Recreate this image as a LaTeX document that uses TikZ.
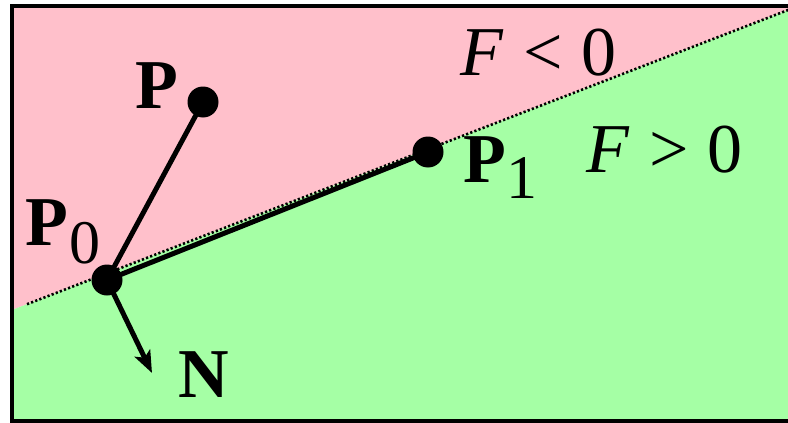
\documentclass[tikz,border=0pt]{standalone}
\usepackage{fontspec}
\setmainfont{Liberation Serif}
\usetikzlibrary{arrows.meta}
\definecolor{pinkfill}{RGB}{255,192,203}
\definecolor{greenfill}{RGB}{165,255,165}
\begin{document}
\begin{tikzpicture}[x=1pt,y=-1pt,
  dot/.style={circle,fill=black,inner sep=0pt,minimum size=31pt},
  lbl/.style={inner sep=0pt,anchor=base west,font=\fontsize{70}{70}\selectfont},
  seg/.style={line width=5pt},
  subs/.style={font=\fontsize{60}{60}\selectfont}]
\useasboundingbox (0,0) rectangle (788,423);
% regions
\fill[pinkfill] (12,6) -- (800,6) -- (800,5.4) -- (12,310) -- cycle;
\fill[greenfill] (12,310) -- (800,5.4) -- (800,421) -- (12,421) -- cycle;
% boundary line F=0
\coordinate (dl) at (27,304.2);
\coordinate (dr) at (800,5.4);
\draw[line width=2.6pt, dash pattern=on 2.2pt off 2.2pt] (dl) -- (dr);
% frame
\draw[line width=4.5pt] (12,6) rectangle (810,421);
% points
\node[dot] (P0) at (107,280) {};
\node[dot] (P1) at (428,152) {};
\node[dot] (P) at (203,102) {};
\coordinate (Ntip) at (152,373);
\draw[seg] (P0.center) -- (P1.center);
\draw[seg] (P0.center) -- (P.center);
\draw[seg,-{Stealth[length=22pt,width=17pt,inset=5pt]}] (P0.center) -- (Ntip);
% labels
\node[lbl] (lP) at (135,108) {\textbf{P}};
\node[lbl] (lP0) at (25,245) {\textbf{P}\hspace{2pt}\raisebox{-18pt}{\fontsize{62}{62}\selectfont 0}};
\node[lbl] (lP1) at (463,182) {\textbf{P}\hspace{1pt}\raisebox{-16pt}{\fontsize{62}{62}\selectfont 1}};
\node[lbl] (lN) at (178,397) {\textbf{N}};
\node[lbl] (lneg) at (460,75) {\textit{F}\hspace{20pt}{<}\hspace{18pt}0};
\node[lbl] (lpos) at (586,172) {\textit{F}\hspace{20pt}{>}\hspace{18pt}0};
\end{tikzpicture}
\end{document}
